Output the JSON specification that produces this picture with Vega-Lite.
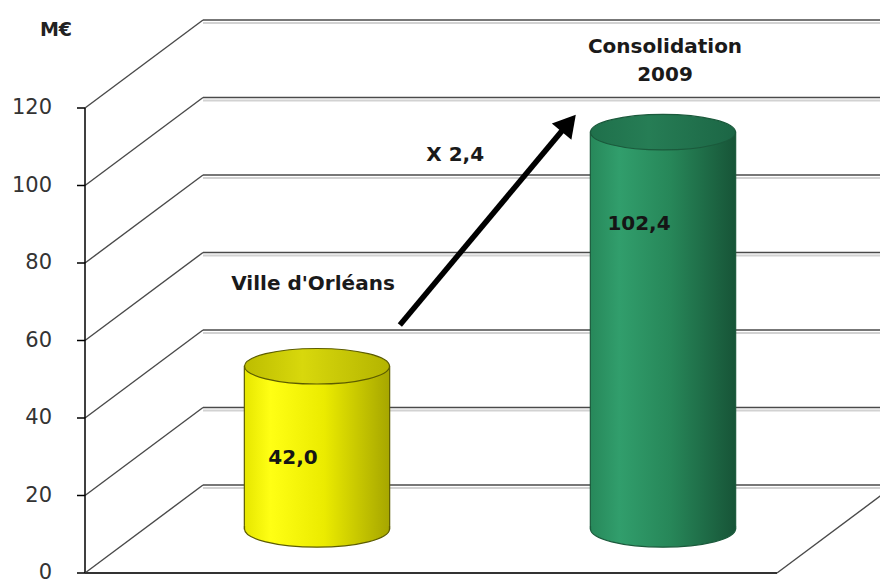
{
  "$schema": "https://vega.github.io/schema/vega-lite/v6.json",
  "width": 692,
  "height": 465,
  "autosize": "none",
  "padding": {"left": 85, "top": 108, "right": 103, "bottom": 10},
  "background": "white",
  "config": {
    "view": {"stroke": null},
    "axis": {"disable": true},
    "locale": {"number": {"decimal": ",", "thousands": " ", "grouping": [3], "currency": ["", " €"]}},
    "text": {"font": "DejaVu Sans"}
  },
  "data": {"values": [
    {"cat": "Ville d'Orléans", "value": 42.0},
    {"cat": "Consolidation 2009", "value": 102.4}
  ]},
  "resolve": {"scale": {"x": "independent"}},
  "layer": [
    {
      "data": {"values": [{"v": 0}, {"v": 20}, {"v": 40}, {"v": 60}, {"v": 80}, {"v": 100}, {"v": 120}]},
      "layer": [
        {
          "mark": {"type": "rule", "color": "#d2d2d2", "strokeWidth": 2, "xOffset": 118, "x2Offset": 118, "yOffset": -85},
          "encoding": {
            "x": {"datum": 0, "type": "quantitative", "scale": {"domain": [0, 4], "nice": false}, "axis": null},
            "x2": {"datum": 4},
            "y": {"field": "v", "type": "quantitative", "scale": {"domain": [0, 120]}, "axis": null}
          }
        },
        {
          "mark": {"type": "rule", "color": "#4a4a4a", "strokeWidth": 1.6, "xOffset": 118, "x2Offset": 118, "yOffset": -88},
          "encoding": {
            "x": {"datum": 0, "type": "quantitative", "scale": {"domain": [0, 4], "nice": false}, "axis": null},
            "x2": {"datum": 4},
            "y": {"field": "v", "type": "quantitative", "axis": null}
          }
        },
        {
          "mark": {"type": "rule", "color": "#4a4a4a", "strokeWidth": 1.4, "x2Offset": 118, "y2Offset": -88},
          "encoding": {
            "x": {"datum": 0, "type": "quantitative", "scale": {"domain": [0, 4], "nice": false}, "axis": null},
            "x2": {"datum": 0},
            "y": {"field": "v", "type": "quantitative", "axis": null},
            "y2": {"field": "v"}
          }
        },
        {
          "mark": {"type": "rule", "color": "#000", "strokeWidth": 1.5, "xOffset": -8},
          "encoding": {
            "x": {"datum": 0, "type": "quantitative", "scale": {"domain": [0, 4], "nice": false}, "axis": null},
            "x2": {"datum": 0},
            "y": {"field": "v", "type": "quantitative", "axis": null}
          }
        },
        {
          "mark": {"type": "text", "xOffset": -33, "align": "right", "baseline": "middle", "font": "DejaVu Sans", "fontSize": 21, "color": "#333"},
          "encoding": {
            "x": {"datum": 0, "type": "quantitative", "scale": {"domain": [0, 4], "nice": false}, "axis": null},
            "y": {"field": "v", "type": "quantitative", "axis": null},
            "text": {"field": "v", "type": "quantitative"}
          }
        },
        {
          "data": {"values": [{}]},
          "mark": {"type": "rule", "color": "#000", "strokeWidth": 1.5},
          "encoding": {
            "x": {"datum": 0, "type": "quantitative", "scale": {"domain": [0, 4], "nice": false}, "axis": null},
            "y": {"datum": 0, "type": "quantitative", "axis": null},
            "y2": {"datum": 120}
          }
        },
        {
          "data": {"values": [{}]},
          "mark": {"type": "text", "text": "M€", "xOffset": -29, "align": "center", "baseline": "middle", "font": "DejaVu Sans", "fontSize": 19, "fontWeight": "bold", "color": "#222"},
          "encoding": {
            "x": {"datum": 0, "type": "quantitative", "scale": {"domain": [0, 4], "nice": false}, "axis": null},
            "y": {"datum": 140.1, "type": "quantitative", "axis": null}
          }
        },
        {
          "data": {"values": [{}]},
          "mark": {"type": "rule", "color": "#333", "strokeWidth": 2},
          "encoding": {
            "x": {"datum": 0, "type": "quantitative", "scale": {"domain": [0, 4], "nice": false}, "axis": null},
            "x2": {"datum": 4},
            "y": {"datum": 0, "type": "quantitative", "axis": null}
          }
        },
        {
          "data": {"values": [{}]},
          "mark": {"type": "rule", "color": "#4a4a4a", "strokeWidth": 1.4, "x2Offset": 118, "y2Offset": -88},
          "encoding": {
            "x": {"datum": 4, "type": "quantitative", "scale": {"domain": [0, 4], "nice": false}, "axis": null},
            "x2": {"datum": 4},
            "y": {"datum": 0, "type": "quantitative", "axis": null},
            "y2": {"datum": 0}
          }
        }
      ]
    },
    {
      "layer": [
        {
          "mark": {"type": "bar", "xOffset": 59, "x2Offset": 59, "yOffset": -44, "y2Offset": -44, "strokeWidth": 1.2},
          "encoding": {
            "x": {"field": "cat", "type": "nominal", "scale": {"type": "band", "domain": ["Ville d'Orléans", "Consolidation 2009"], "paddingInner": 0.58, "paddingOuter": 0.29}, "axis": null},
            "y": {"field": "value", "type": "quantitative", "scale": {"domain": [0, 120]}, "axis": null},
            "fill": {
              "condition": {"test": "datum.value < 50", "value": {"gradient": "linear", "x1": 0, "y1": 0, "x2": 1, "y2": 0, "stops": [{"offset": 0, "color": "#e6e600"}, {"offset": 0.18, "color": "#ffff14"}, {"offset": 0.55, "color": "#ebeb00"}, {"offset": 1, "color": "#a6a600"}]}},
              "value": {"gradient": "linear", "x1": 0, "y1": 0, "x2": 1, "y2": 0, "stops": [{"offset": 0, "color": "#27885a"}, {"offset": 0.2, "color": "#319e6c"}, {"offset": 0.55, "color": "#278759"}, {"offset": 1, "color": "#175437"}]}
            },
            "stroke": {"condition": {"test": "datum.value < 50", "value": "#5c5c00"}, "value": "#1b5a3c"}
          }
        },
        {
          "mark": {"type": "point", "shape": "M-1,-0.045L-1,0A1,0.25,0,0,0,1,0L1,-0.045", "size": 21025, "filled": true, "opacity": 1, "strokeWidth": 1.2, "xOffset": 59, "yOffset": -44},
          "encoding": {
            "x": {"field": "cat", "type": "nominal", "scale": {"type": "band", "domain": ["Ville d'Orléans", "Consolidation 2009"], "paddingInner": 0.58, "paddingOuter": 0.29}, "axis": null},
            "y": {"datum": 0, "type": "quantitative", "axis": null},
            "fill": {
              "condition": {"test": "datum.value < 50", "value": {"gradient": "linear", "x1": 0, "y1": 0, "x2": 1, "y2": 0, "stops": [{"offset": 0, "color": "#e6e600"}, {"offset": 0.18, "color": "#ffff14"}, {"offset": 0.55, "color": "#ebeb00"}, {"offset": 1, "color": "#a6a600"}]}},
              "value": {"gradient": "linear", "x1": 0, "y1": 0, "x2": 1, "y2": 0, "stops": [{"offset": 0, "color": "#27885a"}, {"offset": 0.2, "color": "#319e6c"}, {"offset": 0.55, "color": "#278759"}, {"offset": 1, "color": "#175437"}]}
            },
            "stroke": {"condition": {"test": "datum.value < 50", "value": "#5c5c00"}, "value": "#1b5a3c"}
          }
        },
        {
          "mark": {"type": "point", "shape": "M-1,0A1,0.245,0,1,1,1,0A1,0.245,0,1,1,-1,0Z", "size": 21025, "filled": true, "opacity": 1, "strokeWidth": 1.2, "xOffset": 59, "yOffset": -44},
          "encoding": {
            "x": {"field": "cat", "type": "nominal", "scale": {"type": "band", "domain": ["Ville d'Orléans", "Consolidation 2009"], "paddingInner": 0.58, "paddingOuter": 0.29}, "axis": null},
            "y": {"field": "value", "type": "quantitative", "axis": null},
            "fill": {
              "condition": {"test": "datum.value < 50", "value": {"gradient": "linear", "x1": 0, "y1": 0, "x2": 1, "y2": 0, "stops": [{"offset": 0, "color": "#bdbd00"}, {"offset": 0.4, "color": "#d8d80c"}, {"offset": 1, "color": "#b4b400"}]}},
              "value": {"gradient": "linear", "x1": 0, "y1": 0, "x2": 1, "y2": 0, "stops": [{"offset": 0, "color": "#1f704b"}, {"offset": 0.4, "color": "#267d55"}, {"offset": 1, "color": "#1c6645"}]}
            },
            "stroke": {"condition": {"test": "datum.value < 50", "value": "#5c5c00"}, "value": "#1b5a3c"}
          }
        },
        {
          "mark": {"type": "text", "xOffset": 35, "yOffset": 48, "fontSize": 20, "fontWeight": "bold", "font": "DejaVu Sans", "color": "#151515", "align": "center", "baseline": "middle"},
          "encoding": {
            "x": {"field": "cat", "type": "nominal", "scale": {"type": "band", "domain": ["Ville d'Orléans", "Consolidation 2009"], "paddingInner": 0.58, "paddingOuter": 0.29}, "axis": null},
            "y": {"field": "value", "type": "quantitative", "axis": null},
            "text": {"field": "value", "type": "quantitative", "format": ".1f"}
          }
        },
        {
          "transform": [{"filter": "datum.value < 50"}],
          "mark": {"type": "text", "xOffset": 55, "fontSize": 20, "fontWeight": "bold", "font": "DejaVu Sans", "color": "#1a1a1a", "align": "center", "baseline": "alphabetic"},
          "encoding": {
            "x": {"field": "cat", "type": "nominal", "scale": {"type": "band", "domain": ["Ville d'Orléans", "Consolidation 2009"], "paddingInner": 0.58, "paddingOuter": 0.29}, "axis": null},
            "y": {"datum": 73, "type": "quantitative", "axis": null},
            "text": {"field": "cat"}
          }
        },
        {
          "transform": [{"filter": "datum.value > 50"}],
          "mark": {"type": "text", "xOffset": 61, "fontSize": 20, "fontWeight": "bold", "font": "DejaVu Sans", "color": "#1a1a1a", "align": "center", "baseline": "alphabetic", "lineBreak": " ", "lineHeight": 28, "letterSpacing": 1},
          "encoding": {
            "x": {"field": "cat", "type": "nominal", "scale": {"type": "band", "domain": ["Ville d'Orléans", "Consolidation 2009"], "paddingInner": 0.58, "paddingOuter": 0.29}, "axis": null},
            "y": {"datum": 134.2, "type": "quantitative", "axis": null},
            "text": {"field": "cat"}
          }
        }
      ]
    },
    {
      "data": {"values": [{}]},
      "layer": [
        {
          "mark": {"type": "rule", "color": "#000", "strokeWidth": 5.5},
          "encoding": {
            "x": {"datum": 1.82, "type": "quantitative", "scale": {"domain": [0, 4], "nice": false}, "axis": null},
            "x2": {"datum": 2.757},
            "y": {"datum": 64, "type": "quantitative", "axis": null},
            "y2": {"datum": 114.1}
          }
        },
        {
          "mark": {"type": "point", "shape": "triangle-up", "size": 650, "filled": true, "opacity": 1, "color": "#000", "angle": 40},
          "encoding": {
            "x": {"datum": 2.796, "type": "quantitative", "scale": {"domain": [0, 4], "nice": false}, "axis": null},
            "y": {"datum": 116.1, "type": "quantitative", "axis": null}
          }
        },
        {
          "mark": {"type": "text", "text": "X 2,4", "fontSize": 20, "fontWeight": "bold", "font": "DejaVu Sans", "color": "#1a1a1a", "align": "center", "baseline": "middle"},
          "encoding": {
            "x": {"datum": 2.14, "type": "quantitative", "scale": {"domain": [0, 4], "nice": false}, "axis": null},
            "y": {"datum": 107.9, "type": "quantitative", "axis": null}
          }
        }
      ]
    }
  ]
}
